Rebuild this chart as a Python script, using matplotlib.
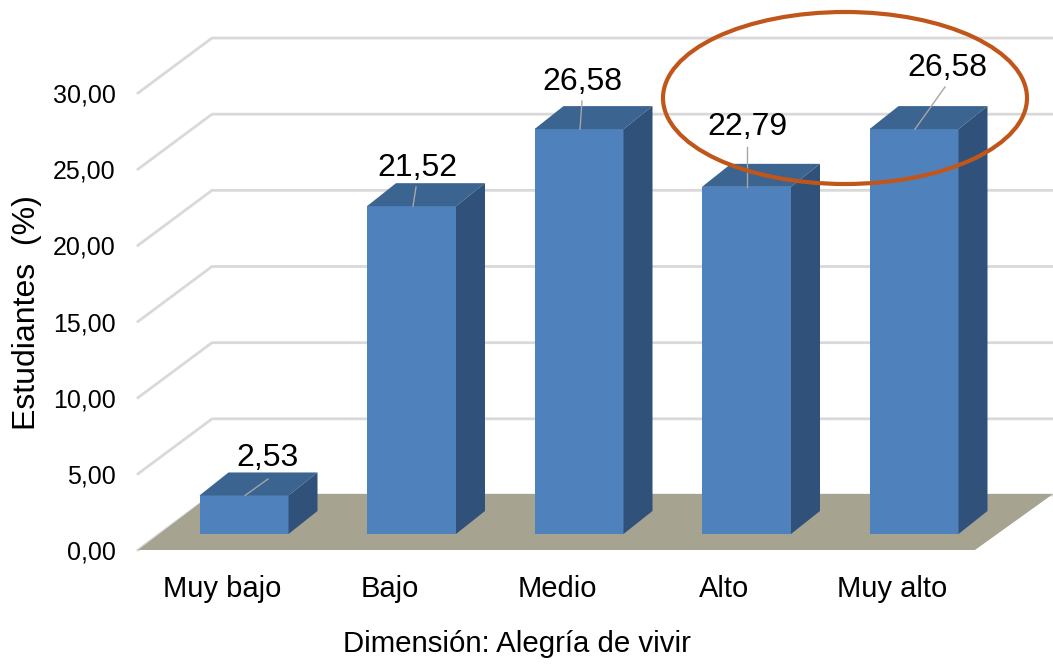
import matplotlib
matplotlib.use("Agg")
import matplotlib.pyplot as plt
from matplotlib.patches import Polygon, Ellipse

plt.rcParams['font.family'] = ['Liberation Sans', 'DejaVu Sans']

categories = ["Muy bajo", "Bajo", "Medio", "Alto", "Muy alto"]
values = [2.53, 21.52, 26.58, 22.79, 26.58]
value_labels = ["2,53", "21,52", "26,58", "22,79", "26,58"]
yticks = [0, 5, 10, 15, 20, 25, 30]
ytick_labels = ["0,00", "5,00", "10,00", "15,00", "20,00", "25,00", "30,00"]

W, H = 1053, 664
fig = plt.figure(figsize=(W / 100, H / 100), dpi=100, facecolor="white")
ax = fig.add_axes([138 / W, (H - 550) / H, (W - 138) / W, 550 / H])
SX, SY = 167.5, 15.233               # px per data unit
X0 = -0.5015
ax.set_xlim(X0, X0 + (W - 138) / SX)
ax.set_ylim(0, 550 / SY)
for s in ax.spines.values():
    s.set_visible(False)

def px(x, y):
    return X0 + (x - 138) / SX, (550 - y) / SY

# depth of the fake 3D room and of the bars
room_dx, room_dy = 74 / SX, 55 / SY
bar_dx, bar_dy = 29 / SX, 23 / SY
bar_w = 89 / SX
bar_shift = 22 / SX
base = 16 / SY

for v in yticks[1:] + [0]:
    ax.plot([X0, X0 + room_dx, ax.get_xlim()[1]],
            [v, v + room_dy, v + room_dy],
            color="#d9d9d9", lw=2, zorder=1, clip_on=False)

# floor
ax.add_patch(Polygon([px(138, 550), px(975, 550), px(1053, 494), px(212, 494)],
                     closed=True, fc="#a6a391", ec="none", zorder=2))

for i, v in enumerate(values):
    left = i + bar_shift - bar_w / 2
    ax.bar(left + bar_w / 2, v, width=bar_w, bottom=base, color="#4f81bd", zorder=3 + i)
    top = base + v
    right = left + bar_w
    ax.add_patch(Polygon([(left, top), (right, top), (right + bar_dx, top + bar_dy),
                          (left + bar_dx, top + bar_dy)], closed=True,
                         fc="#3b6491", ec="none", zorder=3 + i))
    ax.add_patch(Polygon([(right, base), (right + bar_dx, base + bar_dy),
                          (right + bar_dx, top + bar_dy), (right, top)], closed=True,
                         fc="#30527a", ec="none", zorder=3 + i))

# data labels with leader lines running from the top edge of each bar
label_pos = [(268, 458), (417, 168), (582, 82), (747, 127), (947, 68)]
leader_x = [245, 413, 580, 747, 915]
leader_end = [(268, 479), (416, 187), (582, 101), (747, 147), (945, 87)]
for i, (lab, p, lx, e) in enumerate(zip(value_labels, label_pos, leader_x, leader_end)):
    a = (px(lx, 0)[0], base + values[i])
    b = px(*e)
    ax.plot([a[0], b[0]], [a[1], b[1]], color="#a6a6a6", lw=1, zorder=20)
    ax.text(*px(*p), lab, ha="center", va="center", fontsize=23, color="black", zorder=21)

# highlight ellipse
cx, cy = px(845, 98)
ax.add_patch(Ellipse((cx, cy), 364 / SX, 172 / SY, fc="none", ec="#c0561a", lw=3,
                     zorder=30, clip_on=False))

ax.set_xticks(range(len(categories)), categories, fontsize=21)
ax.set_yticks(yticks, ytick_labels, fontsize=18)
ax.tick_params(axis="both", length=0)
ax.tick_params(axis="x", pad=18)
ax.tick_params(axis="y", pad=16)
fig.text(517 / W, 1 - 644 / H, "Dimensión: Alegría de vivir", ha="center", va="center", fontsize=21.2)
fig.text(27 / W, 1 - 313 / H, "Estudiantes  (%)", rotation=90, ha="center", va="center", fontsize=23)

fig.savefig("out.png", dpi=100)
